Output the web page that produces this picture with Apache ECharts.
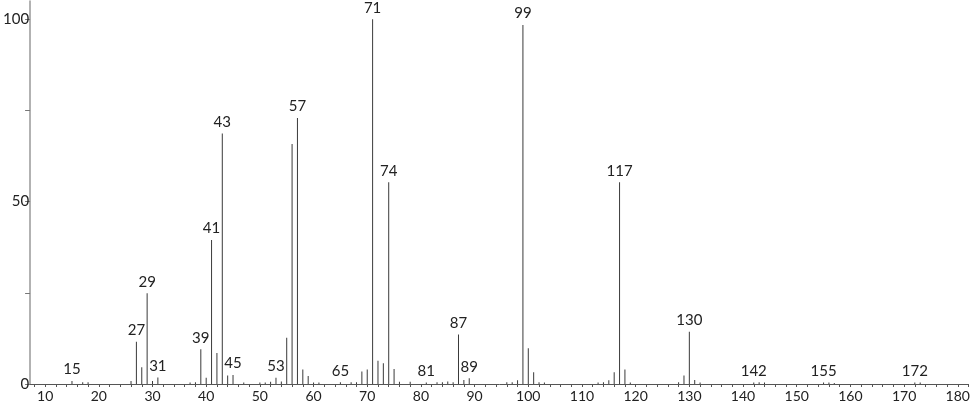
<!DOCTYPE html>
<html>
<head>
<meta charset="utf-8">
<script src="https://cdn.jsdelivr.net/npm/echarts@6/dist/echarts.min.js"></script>
<style>html,body{margin:0;padding:0;background:#fff;}#c{width:974px;height:406px;}</style>
</head>
<body>
<div id="c"></div>
<script>
const mz = [15,17,18,26,27,28,29,30,31,37,38,39,40,41,42,43,44,45,47,50,51,52,53,54,55,56,57,58,59,60,61,65,67,68,69,70,71,72,73,74,75,76,78,81,83,84,85,86,87,88,89,96,97,98,99,100,101,102,103,113,114,115,116,117,118,119,128,129,130,131,132,142,143,144,155,156,157,172,173];
const intensity = [0.8,0.5,0.5,0.8,11.6,4.6,24.9,0.8,1.8,0.4,0.5,9.5,1.7,39.5,8.5,68.7,2.3,2.5,0.4,0.4,0.4,0.6,1.7,0.7,12.7,65.8,72.9,4.0,2.2,0.4,0.4,0.5,0.5,0.5,3.4,4.0,100,6.4,5.7,55.3,4.1,0.6,0.6,0.4,0.45,0.45,0.7,0.45,13.6,1.1,1.6,0.5,0.5,1.0,98.4,9.8,3.2,0.5,0.4,0.4,0.5,1.0,3.2,55.3,4.0,0.4,0.5,2.3,14.3,1.1,0.4,0.4,0.5,0.4,0.4,0.4,0.3,0.4,0.4];
const labeledPeaks = [15,27,29,31,39,41,43,45,53,57,65,71,74,81,87,89,99,117,130,142,155,172];
const xTickLabels = [10,20,30,40,50,60,70,80,90,100,110,120,130,140,150,160,170,180];
const xMinorTicks = [];
for (let v = 8; v <= 182; v += 2) xMinorTicks.push(v);
const yTickLabels = [0,50,100];

const data = mz.map((m, i) => {
  const item = { value: [m, intensity[i]] };
  if (labeledPeaks.indexOf(m) >= 0) item.label = { show: true };
  return item;
});

const font = 'Lato, "Liberation Sans", sans-serif';
const chart = echarts.init(document.getElementById('c'), null, { renderer: 'canvas' });
chart.setOption({
  animation: false,
  backgroundColor: '#fff',
  grid: { left: 29, top: 1, width: 939.5, bottom: 22, containLabel: false },
  xAxis: {
    type: 'value', min: 7.2, max: 182,
    splitLine: { show: false },
    axisLine: { show: true, onZero: false, lineStyle: { color: '#555', width: 1 } },
    axisTick: { show: true, length: 3, customValues: xMinorTicks, lineStyle: { color: '#555' } },
    axisLabel: { customValues: xTickLabels, margin: 5, color: '#222', fontSize: 14, fontFamily: font }
  },
  yAxis: {
    type: 'value', min: 0, max: 105,
    splitLine: { show: false },
    axisLine: { show: true, lineStyle: { color: '#999', width: 1.5 } },
    axisTick: { show: true, length: 5, customValues: [0,25,50,75,100], lineStyle: { color: '#777' } },
    axisLabel: { customValues: yTickLabels, margin: 1, color: '#222', fontSize: 15, fontFamily: font }
  },
  series: [{
    type: 'bar',
    barWidth: 1,
    itemStyle: { color: '#3a3a3a' },
    label: {
      show: false, position: 'top', distance: 4,
      color: '#222', fontSize: 15, fontFamily: font,
      formatter: p => String(p.value[0])
    },
    data: data
  }]
});
</script>
</body>
</html>
